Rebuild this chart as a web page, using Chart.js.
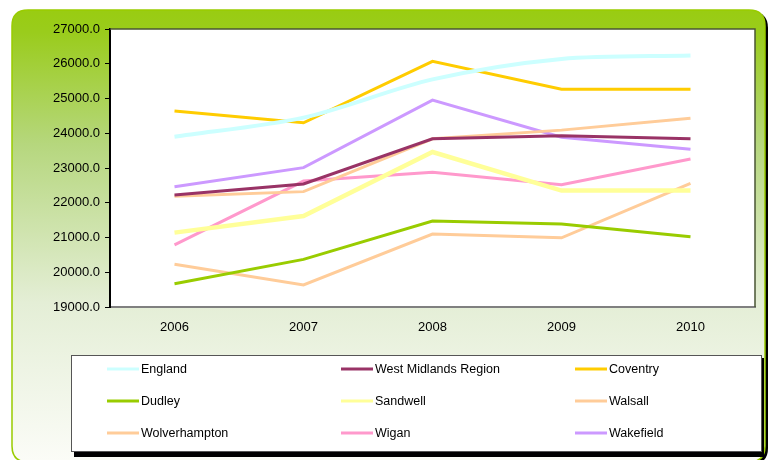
<!DOCTYPE html>
<html>
<head>
<meta charset="utf-8">
<script src="https://cdn.jsdelivr.net/npm/chart.js@4"></script>
<style>
  html, body { margin: 0; padding: 0; background: #fff; }
  canvas { display: block; }
</style>
</head>
<body>
<canvas id="lineChart" width="773" height="460"></canvas>
<script>
// 데이터
var years = ['2006', '2007', '2008', '2009', '2010'];
var areaNames = ['England', 'West Midlands Region', 'Coventry', 'Dudley', 'Sandwell', 'Walsall', 'Wolverhampton', 'Wigan', 'Wakefield'];
var england      = [23900, 24450, 25550, 26140, 26240];
var westMidlands = [22220, 22540, 23840, 23930, 23840];
var coventry     = [24640, 24300, 26070, 25265, 25265];
var dudley       = [19670, 20370, 21475, 21390, 21020];
var sandwell     = [21140, 21620, 23460, 22350, 22350];
var walsall      = [20230, 19635, 21100, 20990, 22560];
var wolverhampton = [22190, 22320, 23840, 24090, 24430];
var wigan        = [20790, 22625, 22875, 22520, 23260];
var wakefield    = [22460, 23010, 24955, 23885, 23540];
var yTicks = { min: 19000, max: 27000, step: 1000 };

var seriesValues = [england, westMidlands, coventry, dudley, sandwell, walsall, wolverhampton, wigan, wakefield];
var seriesColors = ['#CCFFFF', '#993366', '#FFCC00', '#99CC00', '#FFFF99', '#FFCC99', '#FFCC99', '#FF99CC', '#CC99FF'];
var seriesWidths = [4, 3, 3, 3, 4.5, 3, 3, 3, 3];

function roundRect(ctx, x, y, w, h, r) {
    ctx.beginPath();
    ctx.moveTo(x + r, y);
    ctx.lineTo(x + w - r, y);
    ctx.quadraticCurveTo(x + w, y, x + w, y + r);
    ctx.lineTo(x + w, y + h - r);
    ctx.quadraticCurveTo(x + w, y + h, x + w - r, y + h);
    ctx.lineTo(x + r, y + h);
    ctx.quadraticCurveTo(x, y + h, x, y + h - r);
    ctx.lineTo(x, y + r);
    ctx.quadraticCurveTo(x, y, x + r, y);
    ctx.closePath();
}

// 배경, 틀, 범례 그리기
var framePlugin = {
    id: 'framePlugin',
    beforeDraw: function(chart) {
        var ctx = chart.ctx;
        var area = chart.chartArea;
        ctx.save();
        ctx.fillStyle = '#ffffff';
        ctx.fillRect(0, 0, chart.width, chart.height);

        // 바깥 틀 그림자
        ctx.fillStyle = '#000';
        roundRect(ctx, 14, 12, 754, 452, 16);
        ctx.fill();

        var grad = ctx.createLinearGradient(0, 10, 0, 460);
        grad.addColorStop(0, '#99CC11');
        grad.addColorStop(0.05, '#9ACC1C');
        grad.addColorStop(0.3, '#B6D77E');
        grad.addColorStop(0.65, '#E4EED6');
        grad.addColorStop(1, '#FBFCF7');
        ctx.fillStyle = grad;
        roundRect(ctx, 12, 10, 753, 452, 16);
        ctx.fill();
        ctx.strokeStyle = '#99CC00';
        ctx.lineWidth = 1.5;
        ctx.stroke();

        // 그래프 영역
        ctx.fillStyle = '#ffffff';
        ctx.fillRect(area.left, area.top, area.right - area.left, area.bottom - area.top);

        // 범례 상자
        ctx.fillStyle = '#000';
        ctx.fillRect(74, 358, 690, 99);
        ctx.fillStyle = '#ffffff';
        ctx.fillRect(71, 355, 691, 97);
        ctx.strokeStyle = '#555';
        ctx.lineWidth = 1;
        ctx.strokeRect(71.5, 355.5, 690, 96);
        ctx.restore();
    },
    afterDraw: function(chart) {
        var ctx = chart.ctx;
        var area = chart.chartArea;
        ctx.save();
        // 그래프 영역 위, 오른쪽 테두리
        ctx.strokeStyle = '#4a5535';
        ctx.lineWidth = 1.5;
        ctx.beginPath();
        ctx.moveTo(area.left, area.top);
        ctx.lineTo(area.right, area.top);
        ctx.lineTo(area.right, area.bottom);
        ctx.stroke();

        // 범례 항목
        ctx.font = '12.5px "Liberation Sans", Arial, sans-serif';
        ctx.textBaseline = 'middle';
        ctx.fillStyle = '#000';
        chart.data.datasets.forEach(function(ds, i) {
            var col = i % 3;
            var row = Math.floor(i / 3);
            var x0 = 107 + col * 234;
            var y0 = 369 + row * 32;
            ctx.strokeStyle = ds.borderColor;
            ctx.lineWidth = 3;
            ctx.beginPath();
            ctx.moveTo(x0, y0);
            ctx.lineTo(x0 + 32, y0);
            ctx.stroke();
            ctx.fillText(ds.label, x0 + 34, y0 + 1);
        });
        ctx.restore();
    }
};

var datasets = areaNames.map(function(name, i) {
    return {
        label: name,
        data: seriesValues[i],
        borderColor: seriesColors[i],
        backgroundColor: seriesColors[i],
        borderWidth: seriesWidths[i],
        pointRadius: 0,
        tension: i === 0 ? 0.3 : 0,
        fill: false
    };
});

var ctx = document.getElementById('lineChart').getContext('2d');
var myLineChart = new Chart(ctx, {
    type: 'line',
    data: { labels: years, datasets: datasets },
    options: {
        responsive: false,
        animation: false,
        layout: { padding: { top: 29, right: 18, left: 0, bottom: 0 } },
        plugins: {
            legend: { display: false },
            tooltip: { enabled: false }
        },
        scales: {
            x: {
                offset: true,
                grid: { drawOnChartArea: false, drawTicks: false },
                border: { color: '#808080', width: 2 },
                ticks: {
                    color: '#000',
                    padding: 13,
                    font: { family: '"Liberation Sans", Arial, sans-serif', size: 13 }
                },
                afterFit: function(scale) { scale.height = 153; }
            },
            y: {
                min: yTicks.min,
                max: yTicks.max,
                grid: { drawOnChartArea: false, drawTicks: true, tickLength: 5, color: '#000' },
                border: { color: '#000', width: 2 },
                ticks: {
                    stepSize: yTicks.step,
                    color: '#000',
                    padding: 5,
                    font: { family: '"Liberation Sans", Arial, sans-serif', size: 13 },
                    callback: function(v) { return v.toFixed(1); }
                },
                afterFit: function(scale) { scale.width = 110; }
            }
        }
    },
    plugins: [framePlugin]
});
</script>
</body>
</html>
